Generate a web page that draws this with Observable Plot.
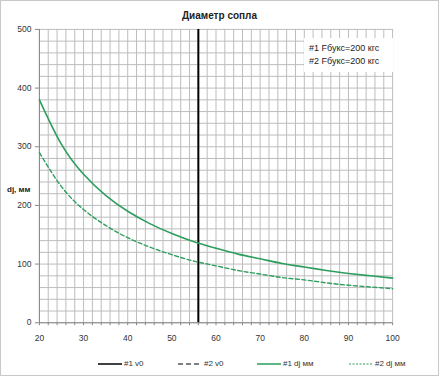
<!DOCTYPE html>
<html>
<head>
<meta charset="utf-8">
<script src="https://cdn.jsdelivr.net/npm/d3@7"></script>
<script src="https://cdn.jsdelivr.net/npm/@observablehq/plot@0.6"></script>
<style>
  html, body { margin: 0; padding: 0; background: #fff; }
  #wrap { position: relative; width: 437px; height: 374px; border: 1px solid #c8c8c8; overflow: hidden; font-family: "Liberation Sans", Arial, sans-serif; color: #333; }
  #title { position: absolute; top: 9px; left: 0; width: 437px; text-align: center; font-weight: bold; font-size: 10px; color: #222; }
  #chart { position: absolute; top: -1px; left: -1px; }
  #note { position: absolute; left: 303px; top: 37px; width: 89px; height: 34px; background: #fff; font-size: 9px; line-height: 13px; padding-top: 4px; padding-left: 5px; box-sizing: border-box; color: #222; }
  #ylab { position: absolute; left: 6px; top: 184px; font-size: 8px; font-weight: bold; color: #222; }
  #legend { position: absolute; top: 358px; left: 0; width: 437px; font-size: 8px; color: #333; }
  .li { position: absolute; display: flex; align-items: center; }
  .li svg { margin-right: 2px; }
</style>
</head>
<body>
<div id="wrap">
  <div id="chart"></div>
  <div id="title"></div>
  <div id="ylab"></div>
  <div id="note"></div>
  <div id="legend"></div>
</div>
<script>
const titleText = "Диаметр сопла";
const yLabel = "dj, мм";
const noteLines = ["#1 Fбукс=200 кгс", "#2 Fбукс=200 кгс"];

const v = [20, 25, 30, 35, 40, 45, 50, 55, 60, 65, 70, 75, 80, 85, 90, 95, 100];
const dj1 = [380, 304, 253, 217, 190, 169, 152, 138, 127, 117, 109, 101, 95, 89, 84, 80, 76];
const dj2 = [290, 232, 193, 166, 145, 129, 116, 105, 97, 89, 83, 77, 73, 68, 64, 61, 58];
const v0 = [56];

const xTicks = [20, 30, 40, 50, 60, 70, 80, 90, 100];
const yTicks = [0, 100, 200, 300, 400, 500];
const xGrid = d3.range(20, 101, 2);
const yGrid = d3.range(0, 501, 20);

const legendItems = [
  {label: "#1 v0", color: "#000", dash: null, w: 1.5, left: 97},
  {label: "#2 v0", color: "#000", dash: "5,3", w: 1.2, left: 177},
  {label: "#1 dj мм", color: "#2e9e5e", dash: null, w: 1.5, left: 256},
  {label: "#2 dj мм", color: "#2e9e5e", dash: "2,1.5", w: 1.2, left: 348}
];

const green = "#2e9e5e";
const rows1 = v.map((x, i) => ({v: x, d: dj1[i]}));
const rows2 = v.map((x, i) => ({v: x, d: dj2[i]}));

const plot = Plot.plot({
  width: 439,
  height: 345,
  marginTop: 29,
  marginBottom: 22,
  marginLeft: 39,
  marginRight: 46,
  style: {fontFamily: "Liberation Sans, Arial, sans-serif", fontSize: "8.5px", color: "#333", background: "transparent"},
  x: {domain: [20, 100], label: null},
  y: {domain: [0, 500], label: null},
  marks: [
    Plot.ruleX(xGrid, {stroke: "#bdbdbd", strokeWidth: 1}),
    Plot.ruleY(yGrid, {stroke: "#bdbdbd", strokeWidth: 1}),
    Plot.ruleX([20], {stroke: "#888"}),
    Plot.ruleY([0], {stroke: "#888"}),
    Plot.ruleX(v0, {stroke: "#000", strokeWidth: 2}),
    Plot.line(rows1, {x: "v", y: "d", stroke: green, strokeWidth: 1.6, curve: "natural"}),
    Plot.line(rows2, {x: "v", y: "d", stroke: green, strokeWidth: 1.4, strokeDasharray: "4,2.5", curve: "natural"}),
    Plot.axisX({ticks: xGrid, tickSize: 3, tickPadding: 9, stroke: "#888", fill: "#333", tickFormat: d => d % 10 === 0 ? d : ""}),
    Plot.axisY({ticks: yTicks, tickSize: 4, stroke: "#888", tickPadding: 4, fill: "#333"})
  ]
});
document.getElementById("chart").appendChild(plot);
document.getElementById("title").textContent = titleText;
document.getElementById("ylab").textContent = yLabel;
document.getElementById("note").innerHTML = noteLines.map(s => `<div>${s}</div>`).join("");

const leg = document.getElementById("legend");
for (const it of legendItems) {
  const el = document.createElement("div");
  el.className = "li";
  el.style.left = it.left + "px";
  el.innerHTML = `<svg width="24" height="6"><line x1="0" y1="3" x2="24" y2="3" stroke="${it.color}" stroke-width="${it.w}" ${it.dash ? `stroke-dasharray="${it.dash}"` : ""}/></svg><span>${it.label}</span>`;
  leg.appendChild(el);
}
</script>
</body>
</html>
